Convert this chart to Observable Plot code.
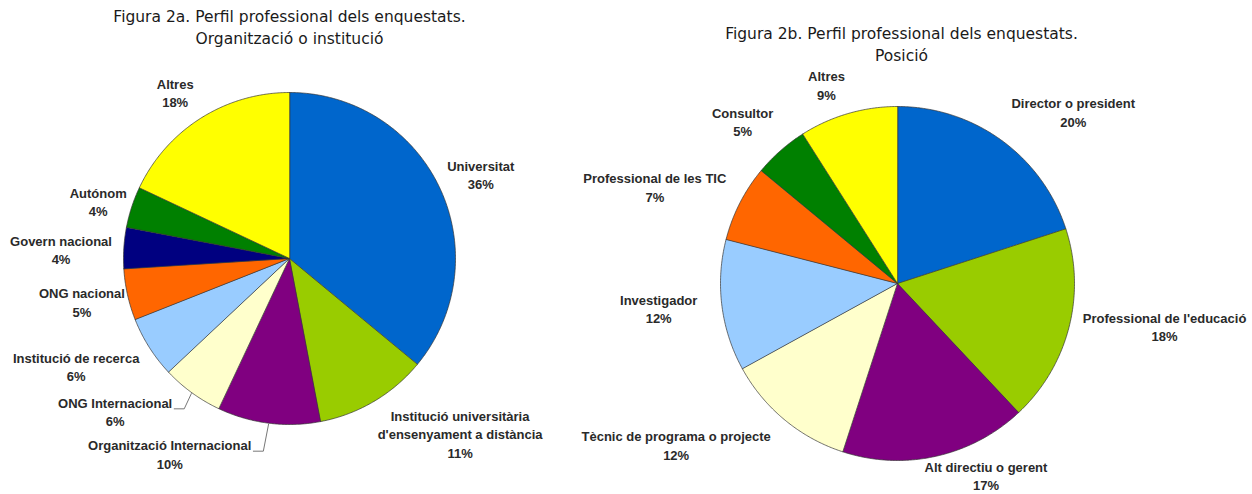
<!DOCTYPE html>
<html><head><meta charset="utf-8">
<script src="https://cdn.jsdelivr.net/npm/d3@7"></script>
<script src="https://cdn.jsdelivr.net/npm/@observablehq/plot@0.6"></script>
<style>body{margin:0;background:#fff} #chart{width:1252px;height:494px}</style>
</head><body><div id="chart"></div>
<script>
// ---- data ----
const orgCategories = ["Universitat","Institució universitària d'ensenyament a distància","Organització Internacional","ONG Internacional","Institució de recerca","ONG nacional","Govern nacional","Autónom","Altres"];
const orgValues = [36,11,10,6,6,5,4,4,18];
const orgColors = ["#0066cc","#99cc00","#800080","#ffffcc","#99ccff","#ff6600","#000080","#008000","#ffff00"];
const posCategories = ["Director o president","Professional de l'educació","Alt directiu o gerent","Tècnic de programa o projecte","Investigador","Professional de les TIC","Consultor","Altres"];
const posValues = [20,18,17,12,12,7,5,9];
const posColors = ["#0066cc","#99cc00","#800080","#ffffcc","#99ccff","#ff6600","#008000","#ffff00"];
const titleA = ["Figura 2a. Perfil professional dels enquestats.","Organització o institució"];
const titleB = ["Figura 2b. Perfil professional dels enquestats.","Posició"];

// ---- layout ----
const W = 1252, H = 494;
const LABEL_FONT = 13, LABEL_LH = 18.5, LABEL_FAMILY = "Liberation Sans";
const pies = [
  {cats: orgCategories, vals: orgValues, cols: orgColors, cx: 289, cy: 258, r: 166, gap: 14,
   title: titleA, tx: 289, ty: 17,
   wrap: {"Institució universitària d'ensenyament a distància": "Institució universitària\nd'ensenyament a distància"},
   nudge: {
     "Universitat": [-2, 0],
     "Institució universitària d'ensenyament a distància": [37, -4],
     "Organització Internacional": [-87, -2],
     "ONG Internacional": [-35, -8],
     "Institució de recerca": [-8, 1],
     "ONG nacional": [10, 0],
     "Govern nacional": [2, 3],
     "Autónom": [7, 4],
     "Altres": [-8, 1]
   },
   leaders: ["ONG Internacional", "Organització Internacional"]},
  {cats: posCategories, vals: posValues, cols: posColors, cx: 897, cy: 283, r: 177, gap: 16,
   title: titleB, tx: 901, ty: 34,
   wrap: {},
   nudge: {
     "Director o president": [26, -1],
     "Professional de l'educació": [1, -10],
     "Alt directiu o gerent": [33, -15],
     "Tècnic de programa o projecte": [-38, -2],
     "Investigador": [-9, -2],
     "Professional de les TIC": [-7, -1],
     "Consultor": [-7, -4],
     "Altres": [-12, 4]
   },
   leaders: []}
];

const ctx = document.createElement("canvas").getContext("2d");
ctx.font = `bold ${LABEL_FONT}px "${LABEL_FAMILY}"`;

const slicePts = [], labels = [], leaderPts = [], titleRows = [];
pies.forEach((p, pi) => {
  const arcs = d3.pie().sort(null).value(d => d)(p.vals);
  arcs.forEach((a, i) => {
    const key = pi + ":" + i;
    slicePts.push({key, x: p.cx, y: p.cy, color: p.cols[i]});
    const n = Math.max(2, Math.ceil((a.endAngle - a.startAngle) / (Math.PI / 360)));
    for (let k = 0; k <= n; k++) {
      const t = a.startAngle + (a.endAngle - a.startAngle) * k / n;
      slicePts.push({key, x: p.cx + p.r * Math.sin(t), y: p.cy - p.r * Math.cos(t), color: p.cols[i]});
    }
    const name = p.cats[i];
    const text = (p.wrap[name] || name) + "\n" + p.vals[i] + "%";
    const lines = text.split("\n");
    const w = Math.max(...lines.map(s => ctx.measureText(s).width));
    const h = lines.length * LABEL_LH;
    const m = (a.startAngle + a.endAngle) / 2;
    const s = Math.sin(m), c = Math.cos(m);
    const R = p.r + p.gap;
    const nd = p.nudge[name] || [0, 0];
    const lx = p.cx + R * s + (w / 2) * s + nd[0];
    const ly = p.cy - R * c - (h / 2) * c + nd[1];
    labels.push({x: lx, y: ly, text});
    if (p.leaders.includes(name)) {
      const w1 = ctx.measureText(lines[0]).width;
      const y0 = ly - h / 2 + LABEL_LH / 2 + 7;
      const ex = p.cx + (p.r + 1) * s, ey = p.cy - (p.r + 1) * c;
      leaderPts.push({key, x: lx + w1 / 2 + 2, y: y0});
      leaderPts.push({key, x: lx + w1 / 2 + 12, y: y0});
      leaderPts.push({key, x: ex, y: ey});
    }
  });
  p.title.forEach((t, j) => titleRows.push({x: p.tx, y: p.ty + j * 22, text: t}));
});

const chart = Plot.plot({
  width: W, height: H,
  margin: 0,
  x: {domain: [0, W], range: [0, W], axis: null},
  y: {domain: [0, H], range: [0, H], axis: null},
  color: {type: "identity"},
  marks: [
    Plot.line(slicePts, {x: "x", y: "y", z: "key", fill: "color", stroke: "#333", strokeWidth: 0.7, curve: "linear-closed"}),
    Plot.line(leaderPts, {x: "x", y: "y", z: "key", stroke: "#777", strokeWidth: 1}),
    Plot.text(labels, {x: "x", y: "y", text: "text", fontSize: LABEL_FONT, fontWeight: "bold", fontFamily: LABEL_FAMILY, lineHeight: LABEL_LH / LABEL_FONT, lineAnchor: "middle", textAnchor: "middle", fill: "#2a2a2a"}),
    Plot.text(titleRows, {x: "x", y: "y", text: "text", fontSize: 15.5, fontFamily: "DejaVu Sans", fill: "#1a1a1a"})
  ]
});
document.getElementById("chart").appendChild(chart);
</script>
</body></html>
